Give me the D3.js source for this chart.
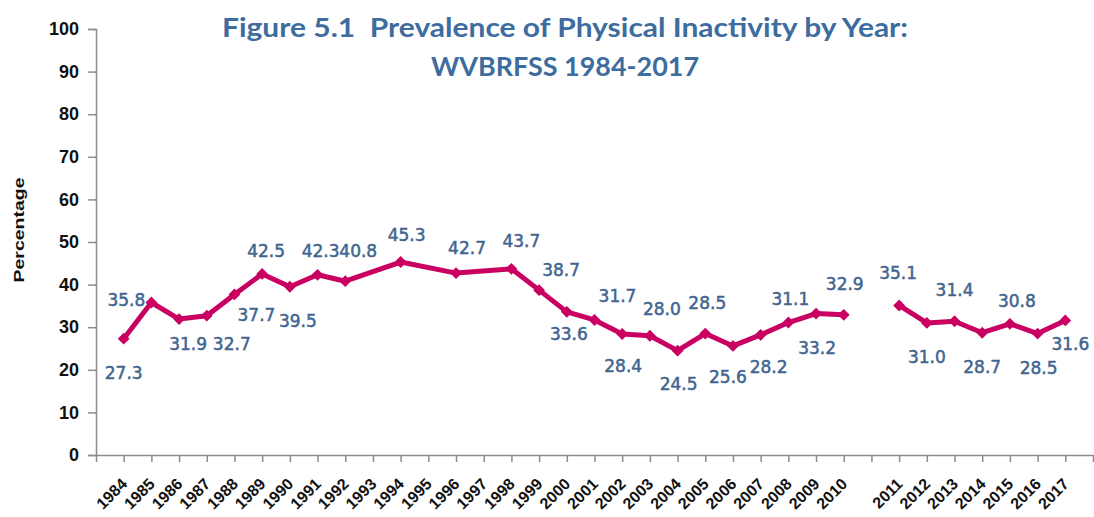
<!DOCTYPE html>
<html>
<head>
<meta charset="utf-8">
<script src="https://cdn.jsdelivr.net/npm/d3@7"></script>
<style>
  html, body { margin: 0; padding: 0; background: #fff; }
  svg { display: block; }
</style>
</head>
<body>
<svg id="chart" width="1094" height="517"></svg>
<script>
// ---------------- data ----------------
const categories = ["1984","1985","1986","1987","1988","1989","1990","1991","1992","1993",
  "1994","1995","1996","1997","1998","1999","2000","2001","2002","2003","2004","2005",
  "2006","2007","2008","2009","2010","","2011","2012","2013","2014","2015","2016","2017"];
const series1Years = categories.slice(0, 27);              // 1984-2010
const series1Values = [27.3,35.8,31.9,32.7,37.7,42.5,39.5,42.3,40.8,null,45.3,null,42.7,null,
  43.7,38.7,33.6,31.7,28.4,28.0,24.5,28.5,25.6,28.2,31.1,33.2,32.9];
const series2Years = ["2011","2012","2013","2014","2015","2016","2017"];
const series2Values = [35.1,31.0,31.4,28.7,30.8,28.5,31.6];
const yTicks = [0,10,20,30,40,50,60,70,80,90,100];
const titleLines = ["Figure 5.1\u00a0\u00a0Prevalence of Physical Inactivity by Year:", "WVBRFSS 1984-2017"];
const yTitle = "Percentage";

// label placement offsets (px, relative to the point)
const series1LabelOffsets = [[0,34],[-25,-2],[9,25],[25,28],[22,21],[4,-23],[8,34],[3,-24],[13,-30],null,
  [6,-27],null,[11,-25],null,[10,-28],[22,-20],[2,22],[23,-24],[1,32],[12,-27],[1,33],[2,-31],
  [-5,31],[8,32],[2,-24],[1,34],[1,-31]];
const series2LabelOffsets = [[-1,-32],[0,34],[0,-31],[0,34],[7,-23],[1,34],[5,24]];

// ---------------- chart ----------------
const svg = d3.select("#chart");
const lineColor = "#c90062";
const labelColor = "#41658f";
const axisColor = "#8c8c8c";

const x = d3.scaleLinear().domain([0, categories.length + 1]).range([96, 1093]);
const y = d3.scaleLinear().domain([0, 100]).range([455, 29]);
const xPos = yr => x(categories.indexOf(yr) + 1);

// title
svg.append("text")
  .attr("x", 565).attr("y", 37)
  .attr("text-anchor", "middle")
  .attr("font-family", "Lato, 'Open Sans', sans-serif")
  .attr("font-weight", "bold").attr("font-size", 26)
  .attr("fill", "#3d6c9f")
  .attr("textLength", 686).attr("lengthAdjust", "spacingAndGlyphs")
  .text(titleLines[0]);
svg.append("text")
  .attr("x", 565).attr("y", 76)
  .attr("text-anchor", "middle")
  .attr("font-family", "Lato, 'Open Sans', sans-serif")
  .attr("font-weight", "bold").attr("font-size", 26)
  .attr("fill", "#3d6c9f")
  .attr("textLength", 268).attr("lengthAdjust", "spacingAndGlyphs")
  .text(titleLines[1]);

// y axis
const yAxis = svg.append("g")
  .attr("transform", `translate(${x(0)},0)`)
  .call(d3.axisLeft(y).tickValues(yTicks).tickSize(8).tickPadding(9).tickFormat(d3.format("d")));
yAxis.select(".domain").attr("stroke", axisColor).attr("stroke-width", 1.5);
yAxis.selectAll(".tick line").attr("stroke", axisColor).attr("stroke-width", 1.5);
yAxis.selectAll(".tick text")
  .attr("font-family", "'Liberation Sans', Arial, sans-serif")
  .attr("font-weight", "bold").attr("font-size", 18).attr("fill", "#111");

// x axis
const xTickVals = d3.range(0, categories.length + 2);
const xAxis = svg.append("g")
  .attr("transform", `translate(0,${y(0)})`)
  .call(d3.axisBottom(x).tickValues(xTickVals).tickSize(7).tickSizeOuter(0)
    .tickFormat(i => (i >= 1 && i <= categories.length) ? categories[i - 1] : ""));
xAxis.select(".domain").attr("stroke", axisColor).attr("stroke-width", 1.5);
xAxis.selectAll(".tick line").attr("stroke", axisColor).attr("stroke-width", 1.5);
xAxis.selectAll(".tick text")
  .attr("font-family", "'Liberation Sans', Arial, sans-serif")
  .attr("font-weight", "bold").attr("font-size", 16).attr("fill", "#111")
  .attr("text-anchor", "end")
  .attr("y", null).attr("dy", null)
  .attr("transform", "translate(4,30) rotate(-45)");

// y title
svg.append("text")
  .attr("transform", "translate(24,230) rotate(-90)")
  .attr("text-anchor", "middle")
  .attr("font-family", "'Liberation Sans', Arial, sans-serif")
  .attr("font-weight", "bold").attr("font-size", 15).attr("fill", "#111")
  .attr("textLength", 105).attr("lengthAdjust", "spacingAndGlyphs")
  .text(yTitle);

// series
function drawSeries(years, values, offsets) {
  const pts = years.map((yr, i) => ({ yr, v: values[i], off: offsets[i] }))
    .filter(d => d.v !== null);
  const line = d3.line().x(d => xPos(d.yr)).y(d => y(d.v));
  svg.append("path").datum(pts)
    .attr("d", line).attr("fill", "none")
    .attr("stroke", lineColor).attr("stroke-width", 5)
    .attr("stroke-linejoin", "round");
  svg.append("g").selectAll("path").data(pts).join("path")
    .attr("d", d3.symbol(d3.symbolSquare, 70)())
    .attr("transform", d => `translate(${xPos(d.yr)},${y(d.v)}) rotate(45)`)
    .attr("fill", lineColor);
  svg.append("g").selectAll("text").data(pts).join("text")
    .attr("x", d => xPos(d.yr) + d.off[0])
    .attr("y", d => y(d.v) + d.off[1])
    .attr("text-anchor", "middle")
    .attr("dominant-baseline", "central")
    .attr("font-family", "'DejaVu Sans', sans-serif")
    .attr("font-size", 17).attr("fill", labelColor)
    .attr("stroke", labelColor).attr("stroke-width", 0.5)
    .text(d => d.v.toFixed(1));
}
drawSeries(series1Years, series1Values, series1LabelOffsets);
drawSeries(series2Years, series2Values, series2LabelOffsets);
</script>
</body>
</html>
